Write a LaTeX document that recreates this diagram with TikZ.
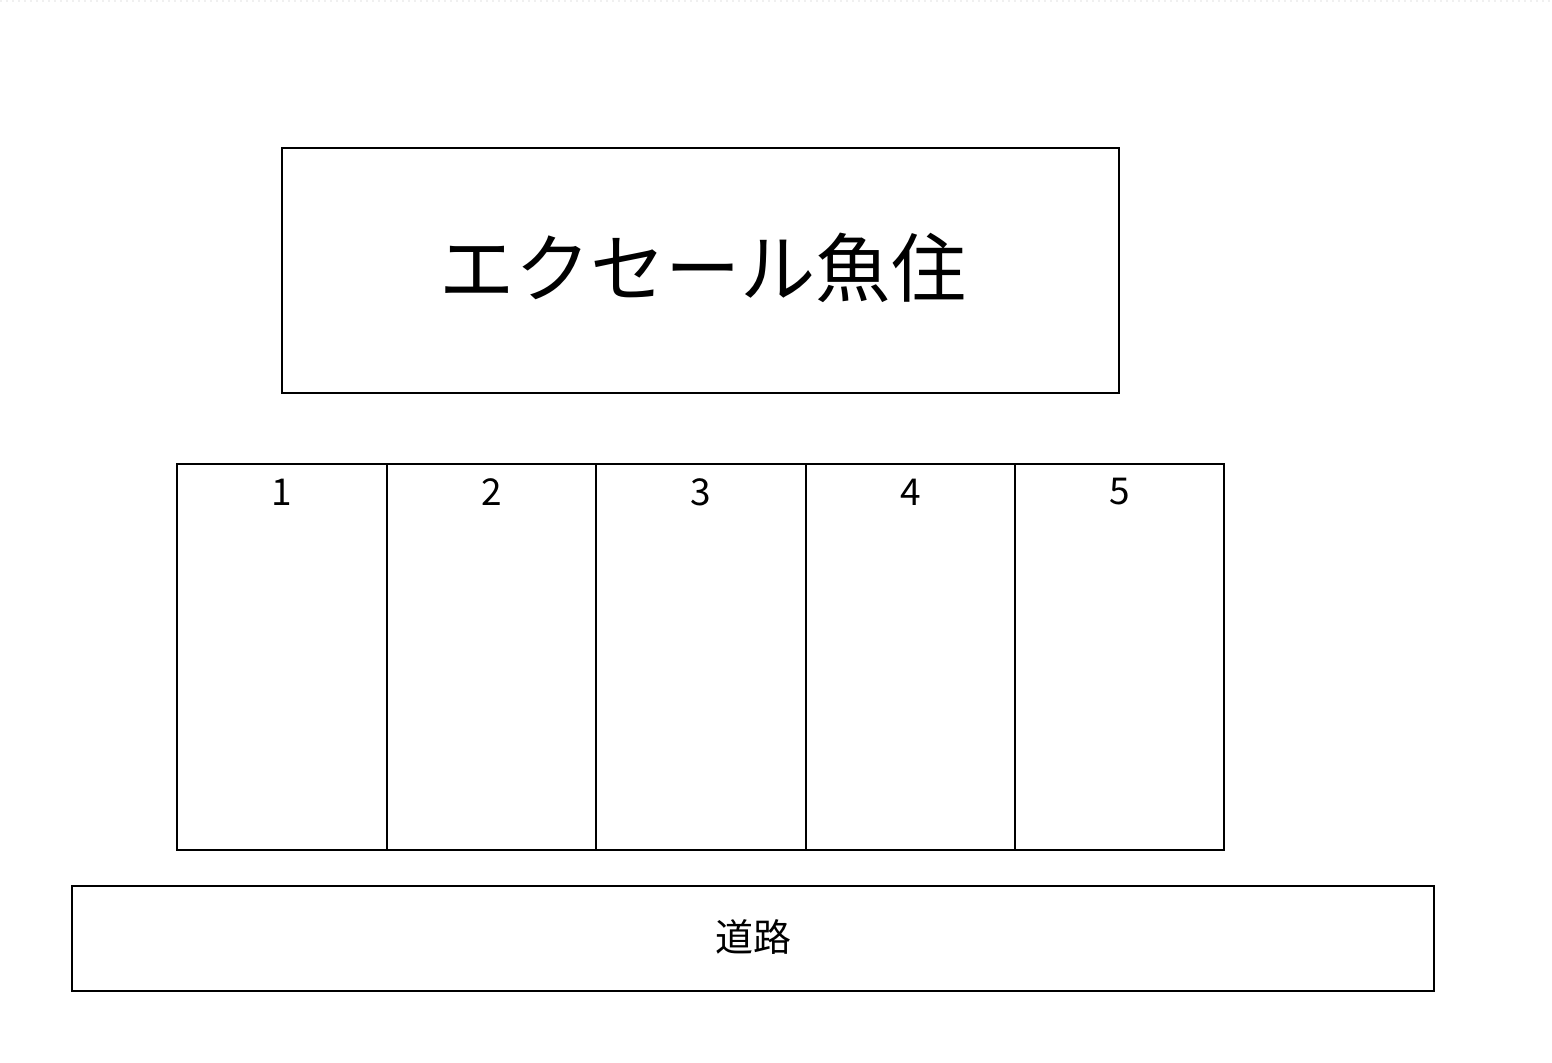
\documentclass[tikz,border=0pt]{standalone}
\usepackage{fontspec}
\newfontfamily\jp{Noto Sans CJK JP}
\begin{document}
\begin{tikzpicture}[x=0.5pt,y=-0.5pt,
  box/.style={draw=black,line width=1pt},
  lbl/.style={font=\jp\fontsize{18.5}{20}\selectfont,inner sep=0pt}]
\useasboundingbox (0,0) rectangle (1552,1062);
\draw[black!6,line width=1pt,dash pattern=on 1pt off 2pt] (0,1) -- (1552,1);
\draw[box] (282,148) rectangle (1119,393);
\node[font=\jp\fontsize{37.6}{40}\selectfont,inner sep=0pt] (shop) at (703,268) {エクセール魚住};
\foreach \i/\xa/\xb in {1/177/387,2/387/596,3/596/806,4/806/1015,5/1015/1224}{
  \draw[box] (\xa,464) rectangle (\xb,850);
  \node[lbl] (n\i) at ({(\xa+\xb)/2},492) {\i};
}
\draw[box] (72,886) rectangle (1434,991);
\node[font=\jp\fontsize{19}{21}\selectfont,inner sep=0pt] (road) at (753,937) {道路};
\end{tikzpicture}
\end{document}
